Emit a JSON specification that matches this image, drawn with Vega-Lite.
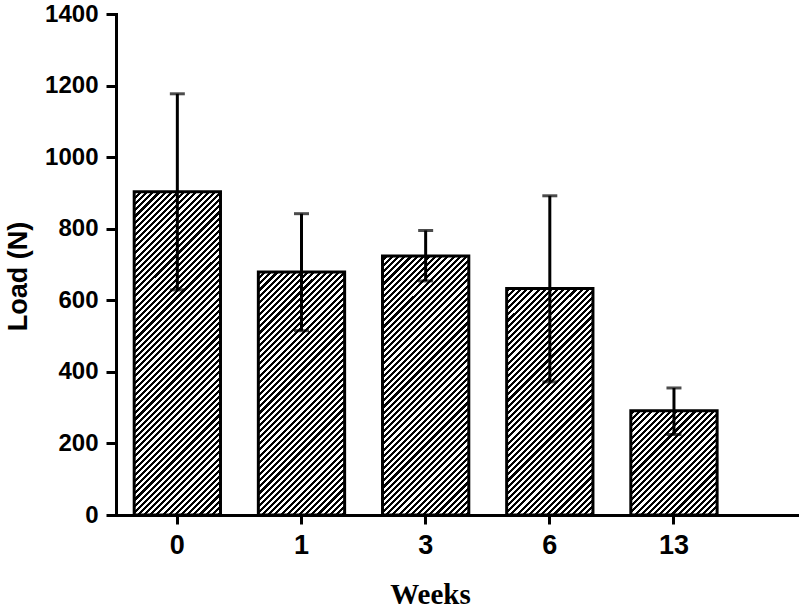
{
"$schema": "https://vega.github.io/schema/vega-lite/v6.json",
"width": 681,
"height": 501,
"autosize": {"type": "none"},
"padding": {"left": 116, "top": 14, "right": 3, "bottom": 93},
"background": "white",
"data": {"values": [
{"week": "0", "mean": 903, "lo": 629, "hi": 1177},
{"week": "1", "mean": 679, "lo": 515, "hi": 842},
{"week": "3", "mean": 724, "lo": 654, "hi": 795},
{"week": "6", "mean": 633, "lo": 372, "hi": 892},
{"week": "13", "mean": 291, "lo": 225, "hi": 355}
]},
"encoding": {
"x": {"field": "week", "type": "ordinal", "sort": ["0", "1", "3", "6", "13"],
"scale": {"type": "band", "paddingInner": 0.305, "paddingOuter": 0.395, "align": 0.1855},
"axis": {"labelAngle": 0, "tickSize": 9, "labelPadding": 8, "labelFontSize": 27, "title": "Weeks", "titleFont": "Liberation Serif", "titleFontSize": 29, "titleX": 314, "titleY": 88, "titleBaseline": "alphabetic", "titleAlign": "center"}}
},
"layer": [
{"mark": {"type": "bar", "stroke": null, "fill": {"gradient": "linear", "x1": 0, "y1": 0, "x2": 0.315, "y2": 1.1825, "stops": [
{"offset":0,"color":"#000"},{"offset":0.0075,"color":"#000"},{"offset":0.0075,"color":"#fff"},{"offset":0.015,"color":"#fff"},
{"offset":0.015,"color":"#000"},{"offset":0.0225,"color":"#000"},{"offset":0.0225,"color":"#fff"},{"offset":0.03,"color":"#fff"},
{"offset":0.03,"color":"#000"},{"offset":0.0375,"color":"#000"},{"offset":0.0375,"color":"#fff"},{"offset":0.045,"color":"#fff"},
{"offset":0.045,"color":"#000"},{"offset":0.0525,"color":"#000"},{"offset":0.0525,"color":"#fff"},{"offset":0.06,"color":"#fff"},
{"offset":0.06,"color":"#000"},{"offset":0.0675,"color":"#000"},{"offset":0.0675,"color":"#fff"},{"offset":0.075,"color":"#fff"},
{"offset":0.075,"color":"#000"},{"offset":0.0825,"color":"#000"},{"offset":0.0825,"color":"#fff"},{"offset":0.09,"color":"#fff"},
{"offset":0.09,"color":"#000"},{"offset":0.0975,"color":"#000"},{"offset":0.0975,"color":"#fff"},{"offset":0.105,"color":"#fff"},
{"offset":0.105,"color":"#000"},{"offset":0.1125,"color":"#000"},{"offset":0.1125,"color":"#fff"},{"offset":0.12,"color":"#fff"},
{"offset":0.12,"color":"#000"},{"offset":0.1275,"color":"#000"},{"offset":0.1275,"color":"#fff"},{"offset":0.135,"color":"#fff"},
{"offset":0.135,"color":"#000"},{"offset":0.1425,"color":"#000"},{"offset":0.1425,"color":"#fff"},{"offset":0.15,"color":"#fff"},
{"offset":0.15,"color":"#000"},{"offset":0.1575,"color":"#000"},{"offset":0.1575,"color":"#fff"},{"offset":0.165,"color":"#fff"},
{"offset":0.165,"color":"#000"},{"offset":0.1725,"color":"#000"},{"offset":0.1725,"color":"#fff"},{"offset":0.18,"color":"#fff"},
{"offset":0.18,"color":"#000"},{"offset":0.1875,"color":"#000"},{"offset":0.1875,"color":"#fff"},{"offset":0.195,"color":"#fff"},
{"offset":0.195,"color":"#000"},{"offset":0.2025,"color":"#000"},{"offset":0.2025,"color":"#fff"},{"offset":0.21,"color":"#fff"},
{"offset":0.21,"color":"#000"},{"offset":0.2175,"color":"#000"},{"offset":0.2175,"color":"#fff"},{"offset":0.225,"color":"#fff"},
{"offset":0.225,"color":"#000"},{"offset":0.2325,"color":"#000"},{"offset":0.2325,"color":"#fff"},{"offset":0.24,"color":"#fff"},
{"offset":0.24,"color":"#000"},{"offset":0.2475,"color":"#000"},{"offset":0.2475,"color":"#fff"},{"offset":0.255,"color":"#fff"},
{"offset":0.255,"color":"#000"},{"offset":0.2625,"color":"#000"},{"offset":0.2625,"color":"#fff"},{"offset":0.27,"color":"#fff"},
{"offset":0.27,"color":"#000"},{"offset":0.2775,"color":"#000"},{"offset":0.2775,"color":"#fff"},{"offset":0.285,"color":"#fff"},
{"offset":0.285,"color":"#000"},{"offset":0.2925,"color":"#000"},{"offset":0.2925,"color":"#fff"},{"offset":0.3,"color":"#fff"},
{"offset":0.3,"color":"#000"},{"offset":0.3075,"color":"#000"},{"offset":0.3075,"color":"#fff"},{"offset":0.315,"color":"#fff"},
{"offset":0.315,"color":"#000"},{"offset":0.3225,"color":"#000"},{"offset":0.3225,"color":"#fff"},{"offset":0.33,"color":"#fff"},
{"offset":0.33,"color":"#000"},{"offset":0.3375,"color":"#000"},{"offset":0.3375,"color":"#fff"},{"offset":0.345,"color":"#fff"},
{"offset":0.345,"color":"#000"},{"offset":0.3525,"color":"#000"},{"offset":0.3525,"color":"#fff"},{"offset":0.36,"color":"#fff"},
{"offset":0.36,"color":"#000"},{"offset":0.3675,"color":"#000"},{"offset":0.3675,"color":"#fff"},{"offset":0.375,"color":"#fff"},
{"offset":0.375,"color":"#000"},{"offset":0.3825,"color":"#000"},{"offset":0.3825,"color":"#fff"},{"offset":0.39,"color":"#fff"},
{"offset":0.39,"color":"#000"},{"offset":0.3975,"color":"#000"},{"offset":0.3975,"color":"#fff"},{"offset":0.405,"color":"#fff"},
{"offset":0.405,"color":"#000"},{"offset":0.4125,"color":"#000"},{"offset":0.4125,"color":"#fff"},{"offset":0.42,"color":"#fff"},
{"offset":0.42,"color":"#000"},{"offset":0.4275,"color":"#000"},{"offset":0.4275,"color":"#fff"},{"offset":0.435,"color":"#fff"},
{"offset":0.435,"color":"#000"},{"offset":0.4425,"color":"#000"},{"offset":0.4425,"color":"#fff"},{"offset":0.45,"color":"#fff"},
{"offset":0.45,"color":"#000"},{"offset":0.4575,"color":"#000"},{"offset":0.4575,"color":"#fff"},{"offset":0.465,"color":"#fff"},
{"offset":0.465,"color":"#000"},{"offset":0.4725,"color":"#000"},{"offset":0.4725,"color":"#fff"},{"offset":0.48,"color":"#fff"},
{"offset":0.48,"color":"#000"},{"offset":0.4875,"color":"#000"},{"offset":0.4875,"color":"#fff"},{"offset":0.495,"color":"#fff"},
{"offset":0.495,"color":"#000"},{"offset":0.5025,"color":"#000"},{"offset":0.5025,"color":"#fff"},{"offset":0.51,"color":"#fff"},
{"offset":0.51,"color":"#000"},{"offset":0.5175,"color":"#000"},{"offset":0.5175,"color":"#fff"},{"offset":0.525,"color":"#fff"},
{"offset":0.525,"color":"#000"},{"offset":0.5325,"color":"#000"},{"offset":0.5325,"color":"#fff"},{"offset":0.54,"color":"#fff"},
{"offset":0.54,"color":"#000"},{"offset":0.5475,"color":"#000"},{"offset":0.5475,"color":"#fff"},{"offset":0.555,"color":"#fff"},
{"offset":0.555,"color":"#000"},{"offset":0.5625,"color":"#000"},{"offset":0.5625,"color":"#fff"},{"offset":0.57,"color":"#fff"},
{"offset":0.57,"color":"#000"},{"offset":0.5775,"color":"#000"},{"offset":0.5775,"color":"#fff"},{"offset":0.585,"color":"#fff"},
{"offset":0.585,"color":"#000"},{"offset":0.5925,"color":"#000"},{"offset":0.5925,"color":"#fff"},{"offset":0.6,"color":"#fff"},
{"offset":0.6,"color":"#000"},{"offset":0.6075,"color":"#000"},{"offset":0.6075,"color":"#fff"},{"offset":0.615,"color":"#fff"},
{"offset":0.615,"color":"#000"},{"offset":0.6225,"color":"#000"},{"offset":0.6225,"color":"#fff"},{"offset":0.63,"color":"#fff"},
{"offset":0.63,"color":"#000"},{"offset":0.6375,"color":"#000"},{"offset":0.6375,"color":"#fff"},{"offset":0.645,"color":"#fff"},
{"offset":0.645,"color":"#000"},{"offset":0.6525,"color":"#000"},{"offset":0.6525,"color":"#fff"},{"offset":0.66,"color":"#fff"},
{"offset":0.66,"color":"#000"},{"offset":0.6675,"color":"#000"},{"offset":0.6675,"color":"#fff"},{"offset":0.675,"color":"#fff"},
{"offset":0.675,"color":"#000"},{"offset":0.6825,"color":"#000"},{"offset":0.6825,"color":"#fff"},{"offset":0.69,"color":"#fff"},
{"offset":0.69,"color":"#000"},{"offset":0.6975,"color":"#000"},{"offset":0.6975,"color":"#fff"},{"offset":0.705,"color":"#fff"},
{"offset":0.705,"color":"#000"},{"offset":0.7125,"color":"#000"},{"offset":0.7125,"color":"#fff"},{"offset":0.72,"color":"#fff"},
{"offset":0.72,"color":"#000"},{"offset":0.7275,"color":"#000"},{"offset":0.7275,"color":"#fff"},{"offset":0.735,"color":"#fff"},
{"offset":0.735,"color":"#000"},{"offset":0.7425,"color":"#000"},{"offset":0.7425,"color":"#fff"},{"offset":0.75,"color":"#fff"},
{"offset":0.75,"color":"#000"},{"offset":0.7575,"color":"#000"},{"offset":0.7575,"color":"#fff"},{"offset":0.765,"color":"#fff"},
{"offset":0.765,"color":"#000"},{"offset":0.7725,"color":"#000"},{"offset":0.7725,"color":"#fff"},{"offset":0.78,"color":"#fff"},
{"offset":0.78,"color":"#000"},{"offset":0.7875,"color":"#000"},{"offset":0.7875,"color":"#fff"},{"offset":0.795,"color":"#fff"},
{"offset":0.795,"color":"#000"},{"offset":0.8025,"color":"#000"},{"offset":0.8025,"color":"#fff"},{"offset":0.81,"color":"#fff"},
{"offset":0.81,"color":"#000"},{"offset":0.8175,"color":"#000"},{"offset":0.8175,"color":"#fff"},{"offset":0.825,"color":"#fff"},
{"offset":0.825,"color":"#000"},{"offset":0.8325,"color":"#000"},{"offset":0.8325,"color":"#fff"},{"offset":0.84,"color":"#fff"},
{"offset":0.84,"color":"#000"},{"offset":0.8475,"color":"#000"},{"offset":0.8475,"color":"#fff"},{"offset":0.855,"color":"#fff"},
{"offset":0.855,"color":"#000"},{"offset":0.8625,"color":"#000"},{"offset":0.8625,"color":"#fff"},{"offset":0.87,"color":"#fff"},
{"offset":0.87,"color":"#000"},{"offset":0.8775,"color":"#000"},{"offset":0.8775,"color":"#fff"},{"offset":0.885,"color":"#fff"},
{"offset":0.885,"color":"#000"},{"offset":0.8925,"color":"#000"},{"offset":0.8925,"color":"#fff"},{"offset":0.9,"color":"#fff"},
{"offset":0.9,"color":"#000"},{"offset":0.9075,"color":"#000"},{"offset":0.9075,"color":"#fff"},{"offset":0.915,"color":"#fff"},
{"offset":0.915,"color":"#000"},{"offset":0.9225,"color":"#000"},{"offset":0.9225,"color":"#fff"},{"offset":0.93,"color":"#fff"},
{"offset":0.93,"color":"#000"},{"offset":0.9375,"color":"#000"},{"offset":0.9375,"color":"#fff"},{"offset":0.945,"color":"#fff"},
{"offset":0.945,"color":"#000"},{"offset":0.9525,"color":"#000"},{"offset":0.9525,"color":"#fff"},{"offset":0.96,"color":"#fff"},
{"offset":0.96,"color":"#000"},{"offset":0.9675,"color":"#000"},{"offset":0.9675,"color":"#fff"},{"offset":0.975,"color":"#fff"},
{"offset":0.975,"color":"#000"},{"offset":0.9825,"color":"#000"},{"offset":0.9825,"color":"#fff"},{"offset":0.99,"color":"#fff"},
{"offset":0.99,"color":"#000"},{"offset":0.9975,"color":"#000"},{"offset":0.9975,"color":"#fff"},{"offset":1,"color":"#fff"}
]}},
"encoding": {"y": {"datum": 0, "type": "quantitative"}, "y2": {"datum": 905}}},
{"mark": {"type": "bar", "fill": "white", "stroke": "white", "strokeWidth": 2},
"encoding": {"y": {"field": "mean", "type": "quantitative"}, "y2": {"datum": 905}}},
{"mark": {"type": "bar", "fill": "white", "fillOpacity": 0, "stroke": "#000", "strokeWidth": 3},
"encoding": {"y": {"field": "mean", "type": "quantitative", "scale": {"domain": [0, 1400], "nice": false},
"axis": {"values": [0, 200, 400, 600, 800, 1000, 1200, 1400], "format": "d", "tickSize": 10, "labelPadding": 8, "labelFontSize": 24, "title": "Load (N)", "titleFontSize": 27, "titleX": -98, "titleY": 262, "titleBaseline": "middle", "titleAlign": "center", "titleAngle": -90}}}},
{"mark": {"type": "rule", "color": "#000", "strokeWidth": 3},
"encoding": {"y": {"field": "lo", "type": "quantitative"}, "y2": {"field": "hi"}}},
{"mark": {"type": "tick", "color": "#000", "size": 15, "thickness": 3},
"encoding": {"y": {"field": "hi", "type": "quantitative"}}},
{"mark": {"type": "tick", "color": "#000", "size": 15, "thickness": 3},
"encoding": {"y": {"field": "lo", "type": "quantitative"}}}
],
"config": {
"view": {"stroke": null},
"axis": {"domainColor": "#000", "tickColor": "#000", "labelColor": "#000", "titleColor": "#000", "grid": false, "domainWidth": 3, "tickWidth": 3, "labelFont": "Liberation Sans", "labelFontWeight": "bold", "titleFont": "Liberation Sans", "titleFontWeight": "bold", "domainCap": "square"}
}
}
